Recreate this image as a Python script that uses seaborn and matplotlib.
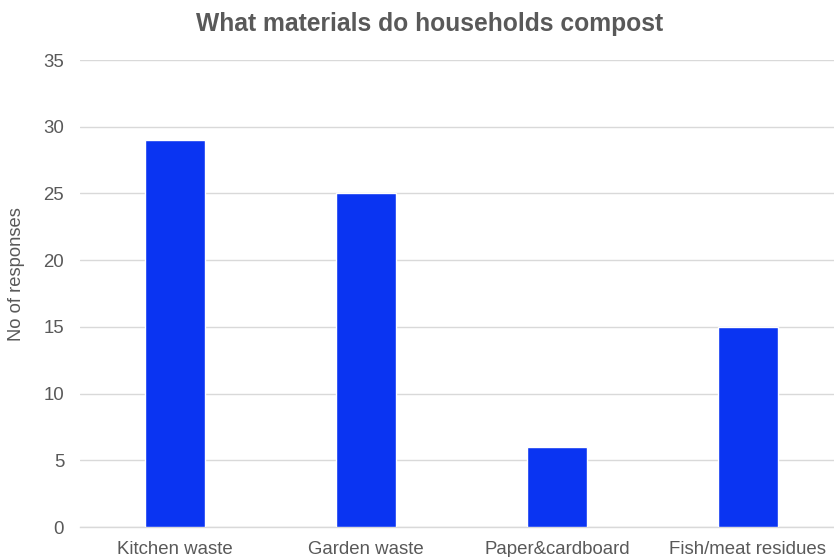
import matplotlib
matplotlib.use("Agg")
import matplotlib.pyplot as plt
import seaborn as sns
import pandas as pd

categories = ["Kitchen waste", "Garden waste", "Paper&cardboard", "Fish/meat residues"]
responses = [29, 25, 6, 15]
y_ticks = [0, 5, 10, 15, 20, 25, 30, 35]

df = pd.DataFrame({"Material": categories, "Responses": responses})

sns.set_theme(style="white")
plt.rcParams["font.family"] = ["Liberation Sans", "DejaVu Sans"]

fig = plt.figure(figsize=(8.34, 5.57), dpi=100)
ax = fig.add_axes([79.5 / 834, 1 - 527 / 557, 764 / 834, 467 / 557])

sns.barplot(data=df, x="Material", y="Responses", color="#0A34F2",
            saturation=1, width=0.315, ax=ax, zorder=3)

ax.set_ylim(0, 35)
ax.set_xlim(-0.5, 3.5)
ax.set_yticks(y_ticks)
ax.yaxis.grid(True, color="#D9D9D9", linewidth=1.0, zorder=0)
ax.xaxis.grid(False)
for s in ["top", "right", "left"]:
    ax.spines[s].set_visible(False)
ax.spines["bottom"].set_color("#D9D9D9")
ax.spines["bottom"].set_linewidth(1.0)
ax.tick_params(axis="both", length=0, labelsize=13.4, labelcolor="#595959")
ax.tick_params(axis="x", pad=10)
ax.tick_params(axis="y", pad=11)
ax.set_xlabel("")
ax.set_ylabel("")

fig.text(17 / 834, 1 - 274 / 557, "No of responses", rotation=90, ha="center",
         va="center", fontsize=13.2, color="#595959")
fig.text(430 / 834, 1 - 24 / 557, "What materials do households compost",
         ha="center", va="center", fontsize=17.7, fontweight="bold", color="#595959")

fig.savefig("out.png", dpi=100)
